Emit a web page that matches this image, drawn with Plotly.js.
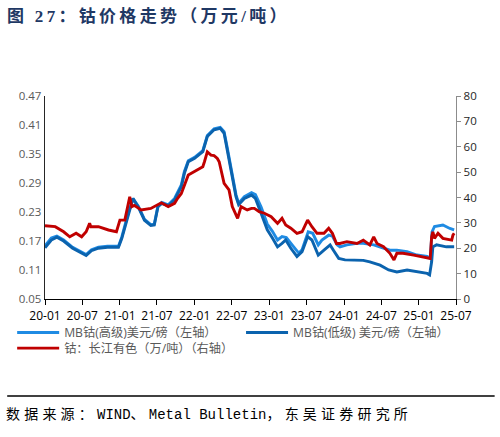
<!DOCTYPE html>
<html>
<head>
<meta charset="utf-8">
<script src="https://cdn.plot.ly/plotly-3.0.1.min.js"></script>
<style>
html,body{margin:0;padding:0;background:#fff;}
#chart{width:500px;height:437px;}
</style>
</head>
<body>
<div id="chart"></div>
<script>
// ---- data ----
var xTickVals = ["2020-01-01","2020-07-01","2021-01-01","2021-07-01","2022-01-01","2022-07-01","2023-01-01","2023-07-01","2024-01-01","2024-07-01","2025-01-01","2025-07-01"];
var xTickText = ["20-01","20-07","21-01","21-07","22-01","22-07","23-01","23-07","24-01","24-07","25-01","25-07"];

var highDates = ["2020-01-01","2020-02-01","2020-02-28","2020-04-01","2020-05-15","2020-07-01","2020-07-20","2020-08-15","2020-09-18","2020-11-01","2020-12-25","2021-01-10","2021-02-12","2021-03-06","2021-04-01","2021-05-01","2021-06-01","2021-06-18","2021-07-06","2021-07-25","2021-08-25","2021-09-25","2021-10-28","2021-11-12","2021-12-01","2022-01-01","2022-02-10","2022-03-04","2022-04-06","2022-05-06","2022-05-25","2022-06-10","2022-07-04","2022-07-22","2022-08-04","2022-09-01","2022-10-06","2022-10-25","2022-11-22","2022-12-22","2023-01-16","2023-02-10","2023-03-04","2023-03-25","2023-04-30","2023-05-25","2023-06-10","2023-07-10","2023-08-01","2023-08-28","2023-09-15","2023-10-18","2023-11-05","2023-11-28","2023-12-12","2024-01-15","2024-03-04","2024-04-04","2024-05-25","2024-07-12","2024-08-12","2024-09-15","2024-11-04","2024-12-22","2025-02-10","2025-02-25","2025-03-06","2025-03-18","2025-04-28","2025-06-01","2025-06-22"];
var highValues = [0.160,0.176,0.180,0.172,0.157,0.147,0.142,0.152,0.157,0.159,0.159,0.178,0.230,0.258,0.242,0.215,0.204,0.205,0.243,0.250,0.245,0.258,0.286,0.314,0.336,0.343,0.357,0.388,0.402,0.405,0.396,0.362,0.308,0.266,0.248,0.262,0.270,0.266,0.240,0.205,0.190,0.172,0.179,0.177,0.158,0.145,0.152,0.189,0.186,0.162,0.172,0.182,0.180,0.162,0.158,0.162,0.165,0.165,0.162,0.155,0.151,0.151,0.148,0.141,0.138,0.134,0.189,0.200,0.203,0.196,0.193];

var lowDates = ["2020-01-01","2020-02-01","2020-02-28","2020-04-01","2020-05-15","2020-07-01","2020-07-20","2020-08-15","2020-09-18","2020-11-01","2020-12-25","2021-01-10","2021-02-12","2021-03-06","2021-04-01","2021-05-01","2021-06-01","2021-06-18","2021-07-06","2021-07-25","2021-08-25","2021-09-25","2021-10-28","2021-11-12","2021-12-01","2022-01-01","2022-02-10","2022-03-04","2022-04-06","2022-05-06","2022-05-25","2022-06-10","2022-07-04","2022-07-22","2022-08-04","2022-09-01","2022-10-06","2022-10-25","2022-11-22","2022-12-22","2023-01-16","2023-02-10","2023-03-04","2023-03-22","2023-04-16","2023-05-16","2023-06-10","2023-07-07","2023-07-28","2023-08-28","2023-09-25","2023-10-25","2023-11-10","2023-12-06","2024-01-06","2024-03-04","2024-04-04","2024-05-06","2024-06-25","2024-08-06","2024-09-15","2024-11-04","2024-12-22","2025-02-10","2025-02-22","2025-03-04","2025-03-10","2025-03-28","2025-05-15","2025-06-22"];
var lowValues = [0.156,0.172,0.178,0.170,0.155,0.145,0.140,0.150,0.155,0.157,0.157,0.175,0.227,0.258,0.240,0.213,0.202,0.203,0.241,0.248,0.243,0.255,0.282,0.310,0.334,0.341,0.355,0.386,0.400,0.403,0.393,0.358,0.303,0.262,0.245,0.258,0.265,0.258,0.227,0.193,0.176,0.158,0.165,0.172,0.155,0.138,0.148,0.179,0.172,0.141,0.151,0.162,0.151,0.134,0.131,0.131,0.130,0.127,0.120,0.110,0.106,0.110,0.107,0.103,0.100,0.127,0.158,0.162,0.158,0.158];

var cnDates = ["2020-01-01","2020-02-20","2020-04-01","2020-05-01","2020-06-01","2020-06-28","2020-07-20","2020-08-06","2020-08-12","2020-09-18","2020-11-06","2020-12-15","2021-01-01","2021-01-25","2021-02-18","2021-02-28","2021-03-12","2021-04-15","2021-06-01","2021-07-06","2021-07-22","2021-08-25","2021-09-25","2021-10-10","2021-10-28","2021-12-01","2022-01-01","2022-01-15","2022-02-10","2022-02-18","2022-03-04","2022-03-22","2022-04-06","2022-04-22","2022-05-01","2022-05-25","2022-06-18","2022-07-04","2022-07-30","2022-08-16","2022-09-15","2022-10-06","2022-10-20","2022-11-12","2022-12-08","2023-01-10","2023-02-10","2023-03-04","2023-03-22","2023-04-16","2023-05-16","2023-06-10","2023-07-07","2023-07-28","2023-08-22","2023-09-25","2023-10-18","2023-11-05","2023-11-25","2023-12-12","2024-01-15","2024-03-04","2024-04-04","2024-05-06","2024-05-25","2024-06-10","2024-07-12","2024-08-12","2024-09-01","2024-09-15","2024-10-15","2024-12-06","2025-01-22","2025-02-25","2025-03-04","2025-03-10","2025-03-18","2025-04-04","2025-04-28","2025-06-10","2025-06-16","2025-06-22"];
var cnValues = [28.9,28.5,26.5,24.5,25.9,24.5,26.5,29.8,28.5,28.5,27.2,26.5,31.1,31.1,40.3,36.4,36.9,35.1,35.7,37.0,37.9,36.4,37.7,39.7,41.6,48.9,50.2,50.8,52.1,54.1,58.0,56.7,56.5,55.4,54.1,45.6,43.0,36.4,31.8,36.4,35.1,35.7,35.7,34.4,33.8,32.4,29.8,31.8,29.2,27.9,25.9,26.5,31.1,28.5,25.9,25.9,27.9,25.9,21.9,21.9,22.6,21.9,23.2,21.3,24.5,21.9,20.6,18.0,15.4,18.0,18.0,17.3,16.7,16.0,24.5,26.5,23.9,25.9,23.9,23.2,25.2,25.9];

var seriesNames = ["MB钴(高级)美元/磅（左轴）","MB钴(低级) 美元/磅（左轴）","钴：长江有色（万/吨）（右轴）"];
var titleText = "图 27：钴价格走势（万元/吨）";
var sourceText = "数据来源：WIND、Metal Bulletin，东吴证券研究所";

// ---- chart ----
var cjk = "'Open Sans', 'Noto Sans CJK SC', sans-serif";
var legFont = {family: cjk, size: 12.2, color: "#595959"};
var traces = [
  {x: highDates, y: highValues, name: seriesNames[0], type: "scatter", mode: "lines",
   line: {color: "#1F8BE3", width: 2.9}, yaxis: "y", legend: "legend"},
  {x: lowDates, y: lowValues, name: seriesNames[1], type: "scatter", mode: "lines",
   line: {color: "#0B63AE", width: 2.9}, yaxis: "y", legend: "legend2"},
  {x: cnDates, y: cnValues, name: seriesNames[2], type: "scatter", mode: "lines",
   line: {color: "#C00000", width: 2.9}, yaxis: "y2", legend: "legend3"}
];

function legendAt(px, py) {
  return {
    orientation: "v", x: (px - 43) / 413, xanchor: "left", y: (299 - py) / 203, yanchor: "top",
    font: legFont, bgcolor: "rgba(0,0,0,0)", borderwidth: 0, itemwidth: 42
  };
}

// wrap CJK runs so that they get the wider character pitch of the reference
function spaceCJK(s, px) {
  return s.replace(/([\u3000-\u303f\u4e00-\u9fff\uff00-\uffef]+)/g,
    '<span style="letter-spacing:' + px + 'px">$1</span>');
}

var layout = {
  width: 500, height: 437,
  margin: {l: 43, r: 44, t: 96, b: 138, pad: 0},
  paper_bgcolor: "#fff", plot_bgcolor: "#fff",
  showlegend: true,
  title: {
    text: '<b><span style="letter-spacing:3.3px">' + titleText + '</span></b>',
    font: {family: "'Liberation Serif', 'Noto Sans CJK SC', serif", size: 17, color: "#1F3864"},
    xref: "container", yref: "container", x: 0.014, xanchor: "left", y: 0.963, yanchor: "middle"
  },
  xaxis: {
    type: "date", range: ["2020-01-01", "2025-07-01"],
    tickmode: "array", tickvals: xTickVals, ticktext: xTickText,
    ticks: "outside", ticklen: 5, tickcolor: "#000", tickwidth: 1,
    showline: true, linecolor: "#000", linewidth: 1.3,
    showgrid: false, zeroline: false,
    tickfont: {family: cjk, size: 12, color: "#000"}
  },
  yaxis: {
    range: [0.05, 0.47], tick0: 0.05, dtick: 0.06, tickformat: ".2f",
    ticks: "", showline: true, linecolor: "#262626", linewidth: 1.3,
    showgrid: false, zeroline: false,
    tickfont: {family: cjk, size: 11.5, color: "#595959"}
  },
  yaxis2: {
    range: [0, 80], dtick: 10, overlaying: "y", side: "right",
    ticks: "outside", ticklen: 4, tickcolor: "#8C8C8C",
    showline: true, linecolor: "#8C8C8C", linewidth: 1.3,
    showgrid: false, zeroline: false,
    tickfont: {family: cjk, size: 11.5, color: "#262626"}
  },
  legend: legendAt(10, 318),
  legend2: legendAt(240, 318),
  legend3: legendAt(10, 333.6),
  shapes: [
    {type: "line", xref: "paper", yref: "paper", x0: -0.092, x1: 1.094, y0: -0.478, y1: -0.478,
     line: {color: "#000", width: 1.5}}
  ],
  annotations: [
    {text: spaceCJK(sourceText, 4.2), xref: "paper", yref: "paper", x: -0.099, xanchor: "left",
     y: -0.57, yanchor: "middle", showarrow: false,
     font: {family: "'Liberation Mono', 'Noto Sans CJK SC', monospace", size: 14, color: "#000"}}
  ]
};

Plotly.newPlot("chart", traces, layout, {displayModeBar: false, staticPlot: true});
</script>
</body>
</html>
